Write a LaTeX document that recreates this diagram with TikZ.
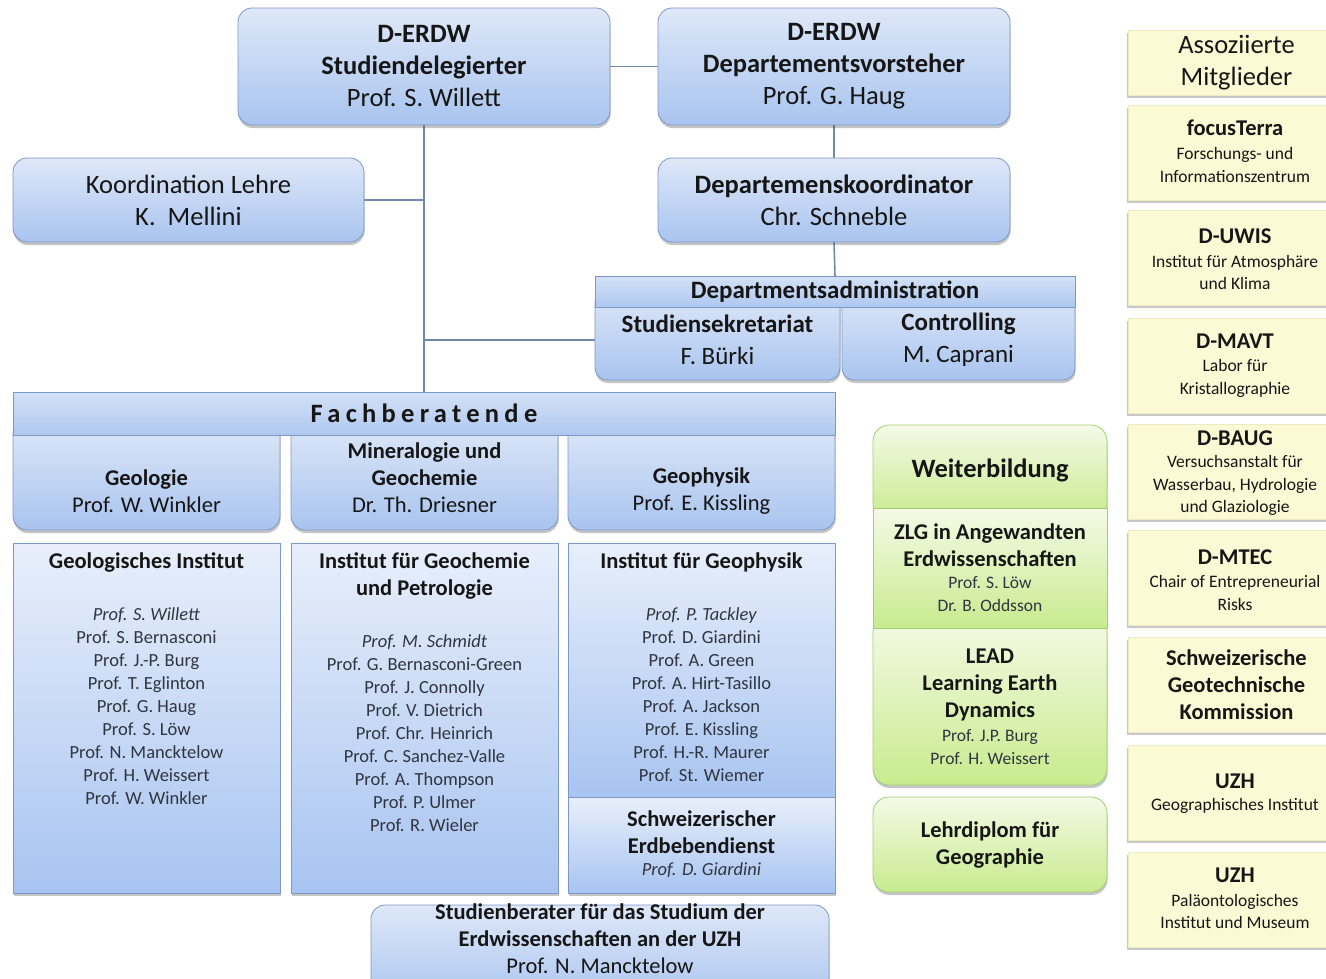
\documentclass[tikz,border=0pt]{standalone}
\usepackage{fontspec}
\setmainfont{Carlito}
\usepackage{tikz}
\usetikzlibrary{positioning, shadows, backgrounds}

\definecolor{boxtop}{HTML}{DEE8F8}
\definecolor{boxbot}{HTML}{A9C4EF}
\definecolor{boxline}{HTML}{7C98C4}
\definecolor{bartop}{HTML}{D3E1F6}
\definecolor{barbot}{HTML}{AFC8F0}
\definecolor{insttop}{HTML}{E8EFFB}
\definecolor{instbot}{HTML}{A8C4F1}
\definecolor{greentop}{HTML}{F4FAE6}
\definecolor{greenbot}{HTML}{C8EB8E}
\definecolor{greenline}{HTML}{A6CD74}
\definecolor{yellowfill}{HTML}{FCFAD4}
\definecolor{yellowline}{HTML}{EEEBC2}
\definecolor{linkline}{HTML}{7088AA}
\definecolor{txtdark}{HTML}{161616}
\definecolor{txtname}{HTML}{30353F}

\newcommand{\fbig}{\fontsize{26.5}{32}\selectfont}
\newcommand{\fmid}{\fontsize{22.5}{27}\selectfont}
\newcommand{\flist}{\fontsize{18.5}{23}\selectfont}
\newcommand{\fsmall}{\fontsize{17.5}{22.5}\selectfont}

\begin{document}
\begin{tikzpicture}[x=1pt,y=-1pt,
        shadowed/.style={drop shadow={shadow xshift=0.6pt,shadow yshift=-3pt,opacity=0.3,fill=black!75}},
        bluebox/.style={draw=boxline,line width=0.8pt,rounded corners=14pt,top color=boxtop,bottom color=boxbot,shadowed,inner sep=0pt,outer sep=0pt,align=center,text=txtdark},
        bluebar/.style={draw=boxline,line width=0.8pt,top color=bartop,bottom color=barbot,inner sep=0pt,outer sep=0pt,text=txtdark},
        instbox/.style={draw=boxline,line width=0.8pt,top color=insttop,bottom color=instbot,shadowed,inner sep=0pt,outer sep=0pt},
        greenbox/.style={draw=greenline,line width=0.8pt,rounded corners=16pt,top color=greentop,bottom color=greenbot,shadowed,inner sep=0pt,outer sep=0pt,align=center,text=txtdark},
        greenbar/.style={draw=greenline,line width=0.8pt,top color=greentop,bottom color=greenbot,inner sep=0pt,outer sep=0pt},
        yellowbox/.style={fill=yellowfill,draw=yellowline,line width=0.5pt,drop shadow={shadow xshift=-1pt,shadow yshift=-3pt,opacity=0.3,fill=black!70},inner sep=0pt,outer sep=0pt,align=center,text=txtdark},
        txt/.style={align=center,text=txtdark,inner sep=0pt},
        names/.style={align=center,text=txtname,inner sep=0pt,font=\flist},
        link/.style={draw=linkline,line width=1.6pt}]

    \useasboundingbox (0,0) rectangle (1326,978);
    \clip (0,0) rectangle (1326,978);

    % top row
    \node[bluebox,font=\fbig,minimum width=372pt,minimum height=117pt] (sd) at (424,66.5)
        {\textbf{D-ERDW}\\\textbf{Studiendelegierter}\\Prof. S. Willett};
    \node[bluebox,font=\fbig,minimum width=352pt,minimum height=117pt] (dv) at (834,66.5)
        {\textbf{D-ERDW}\\\textbf{Departementsvorsteher}\\Prof. G. Haug};
    \node[bluebox,font=\fbig,minimum width=351pt,minimum height=84pt] (ko) at (188.5,200)
        {Koordination Lehre\\K.\ \ Mellini};
    \node[bluebox,font=\fbig,minimum width=352pt,minimum height=84pt] (dk) at (834,200)
        {\textbf{Departemenskoordinator}\\Chr. Schneble};

    % departmentsadministration
    \node[bluebox,rounded corners=12pt,minimum width=245pt,minimum height=90pt] (sek) at (717.5,335) {};
    \node[bluebox,rounded corners=12pt,minimum width=233pt,minimum height=90pt] (ctl) at (958.5,335) {};
    \node[bluebar,minimum width=480pt,minimum height=31pt,font=\fontsize{25}{30}\selectfont\bfseries] (dahead) at (835,291.5)
        {Departmentsadministration};
    \node[txt,font=\fontsize{25}{32}\selectfont] (sektxt) at (717.5,340) {\textbf{Studiensekretariat}\\F. Bürki};
    \node[txt,font=\fontsize{25}{32}\selectfont] (ctltxt) at (958.5,340) {\textbf{Controlling}\\M. Caprani};

    % fachberatende
    \node[bluebox,minimum width=267pt,minimum height=110pt] (geo) at (146.5,475) {};
    \node[bluebox,minimum width=267pt,minimum height=110pt] (mgc) at (424.5,475) {};
    \node[bluebox,minimum width=267pt,minimum height=110pt] (gph) at (701.5,475) {};
    \node[bluebar,minimum width=822pt,minimum height=43pt,font=\fbig\bfseries\addfontfeatures{LetterSpace=20}] (fach) at (424,413.5)
        {Fachberatende};
    \node[txt,font=\fmid] (geotxt) at (146.5,491) {\textbf{Geologie}\\Prof. W. Winkler};
    \node[txt,font=\fmid] (mgctxt) at (424.5,478) {\textbf{Mineralogie und}\\\textbf{Geochemie}\\Dr. Th. Driesner};
    \node[txt,font=\fmid] (gphtxt) at (701.5,491) {\textbf{Geophysik}\\Prof. E. Kissling};

    % institute
    \node[instbox,minimum width=267pt,minimum height=350pt] (geoinst) at (146.5,718) {};
    \node[instbox,minimum width=267pt,minimum height=350pt] (mgcinst) at (424.5,718) {};
    \node[instbox,minimum width=267pt,minimum height=254pt] (gphinst) at (701.5,670) {};
    \node[instbox,minimum width=267pt,minimum height=96pt] (sed) at (701.5,845) {};

    \node[txt,font=\fmid\bfseries] (geohead) at (146.5,562) {Geologisches Institut};
    \node[names] (geolist) at (146.5,706)
        {\textit{Prof. S. Willett}\\Prof. S. Bernasconi\\Prof. J.-P. Burg\\Prof. T. Eglinton\\Prof. G. Haug\\Prof. S. Löw\\Prof. N. Mancktelow\\Prof. H. Weissert\\Prof. W. Winkler};
    \node[txt,font=\fmid\bfseries] (mgchead) at (424.5,575.5) {Institut für Geochemie\\und Petrologie};
    \node[names] (mgclist) at (424.5,733)
        {\textit{Prof. M. Schmidt}\\Prof. G. Bernasconi-Green\\Prof. J. Connolly\\Prof. V. Dietrich\\Prof. Chr. Heinrich\\Prof. C. Sanchez-Valle\\Prof. A. Thompson\\Prof. P. Ulmer\\Prof. R. Wieler};
    \node[txt,font=\fmid\bfseries] (gphhead) at (701.5,562) {Institut für Geophysik};
    \node[names] (gphlist) at (701.5,694.5)
        {\textit{Prof. P. Tackley}\\Prof. D. Giardini\\Prof. A. Green\\Prof. A. Hirt-Tasillo\\Prof. A. Jackson\\Prof. E. Kissling\\Prof. H.-R. Maurer\\Prof. St. Wiemer};
    \node[txt,font=\fmid\bfseries] (sedtxt) at (701.5,832) {Schweizerischer\\Erdbebendienst};
    \node[names] (sedname) at (701.5,870) {\textit{Prof. D. Giardini}};

    % studienberater uzh
    \node[bluebox,minimum width=458pt,minimum height=100pt] (stb) at (600,955) {};
    \node[txt,font=\fmid] (stbtxt) at (600,938.5)
        {\textbf{Studienberater für das Studium der}\\\textbf{Erdwissenschaften an der UZH}\\Prof. N. Mancktelow};

    % weiterbildung
    \node[greenbox,minimum width=234pt,minimum height=95pt] (wb) at (990,472.5) {};
    \node[greenbox,minimum width=234pt,minimum height=169pt] (lead) at (990,700.5) {};
    \node[greenbar,minimum width=234pt,minimum height=120pt] (zlg) at (990,568) {};
    \node[greenbox,minimum width=234pt,minimum height=95pt,font=\fmid\bfseries] (lehr) at (990,844.5)
        {Lehrdiplom für\\Geographie};
    \node[txt,font=\fbig\bfseries] (wbtxt) at (990,470) {Weiterbildung};
    \node[txt,font=\fmid\bfseries] (zlgtxt) at (990,545) {ZLG in Angewandten\\Erdwissenschaften};
    \node[names,font=\fontsize{17.5}{23}\selectfont] (zlgnames) at (990,594.5) {Prof. S. Löw\\Dr. B. Oddsson};
    \node[txt,font=\fmid\bfseries] (leadtxt) at (990,684.5) {LEAD\\Learning Earth\\Dynamics};
    \node[names,font=\fontsize{17.5}{23}\selectfont] (leadnames) at (990,747) {Prof. J.P. Burg\\Prof. H. Weissert};

    % assoziierte mitglieder
    \node[yellowbox,minimum width=217pt,minimum height=65pt,font=\fbig] (asso) at (1236.5,62.5) {Assoziierte\\Mitglieder};
    \node[yellowbox,minimum width=217pt,minimum height=95pt] (focus) at (1236.5,152.5) {};
    \node[yellowbox,minimum width=217pt,minimum height=95pt] (uwis) at (1236.5,257.5) {};
    \node[yellowbox,minimum width=217pt,minimum height=95pt] (mavt) at (1236.5,365.5) {};
    \node[yellowbox,minimum width=217pt,minimum height=95pt] (baug) at (1236.5,471.5) {};
    \node[yellowbox,minimum width=217pt,minimum height=95pt] (mtec) at (1236.5,577.5) {};
    \node[yellowbox,minimum width=217pt,minimum height=95pt,font=\fmid\bfseries] (sgk) at (1236.5,684.5)
        {Schweizerische\\Geotechnische\\Kommission};
    \node[yellowbox,minimum width=217pt,minimum height=95pt] (uzhgeo) at (1236.5,792.5) {};
    \node[yellowbox,minimum width=217pt,minimum height=95pt] (uzhpal) at (1236.5,899.5) {};

    \node[txt,font=\fmid\bfseries] (focustitle) at (1235,128) {focusTerra};
    \node[txt,font=\fsmall] (focusdesc) at (1235,165) {Forschungs- und\\Informationszentrum};
    \node[txt,font=\fmid\bfseries] (uwistitle) at (1235,236) {D-UWIS};
    \node[txt,font=\fsmall] (uwisdesc) at (1235,272.5) {Institut für Atmosphäre\\und Klima};
    \node[txt,font=\fmid\bfseries] (mavttitle) at (1235,341) {D-MAVT};
    \node[txt,font=\fsmall] (mavtdesc) at (1235,378.5) {Labor für\\Kristallographie};
    \node[txt,font=\fmid\bfseries] (baugtitle) at (1235,438) {D-BAUG};
    \node[txt,font=\fsmall] (baugdesc) at (1235,485.5) {Versuchsanstalt für\\Wasserbau, Hydrologie\\und Glaziologie};
    \node[txt,font=\fmid\bfseries] (mtectitle) at (1235,557) {D-MTEC};
    \node[txt,font=\fsmall] (mtecdesc) at (1235,593) {Chair of Entrepreneurial\\Risks};
    \node[txt,font=\fmid\bfseries] (uzhgeotitle) at (1235,781) {UZH};
    \node[txt,font=\fsmall] (uzhgeodesc) at (1235,806) {Geographisches Institut};
    \node[txt,font=\fmid\bfseries] (uzhpaltitle) at (1235,875) {UZH};
    \node[txt,font=\fsmall] (uzhpaldesc) at (1235,911.5) {Paläontologisches\\Institut und Museum};

    % verbindungen
    \begin{scope}[on background layer]
        \fill[white] (0,0) rectangle (1326,978);
        \draw[link] (sd) -- (dv);
        \draw[link] (sd.south) -- (fach.north);
        \draw[link] (ko.east) -- (ko.east -| sd.south);
        \draw[link] (dv.south) -- (dk.north);
        \draw[link] (dk.south) -- (dahead.north);
        \draw[link] (sektxt -| sd.south) -- (sektxt -| sek.west);
    \end{scope}
\end{tikzpicture}
\end{document}
